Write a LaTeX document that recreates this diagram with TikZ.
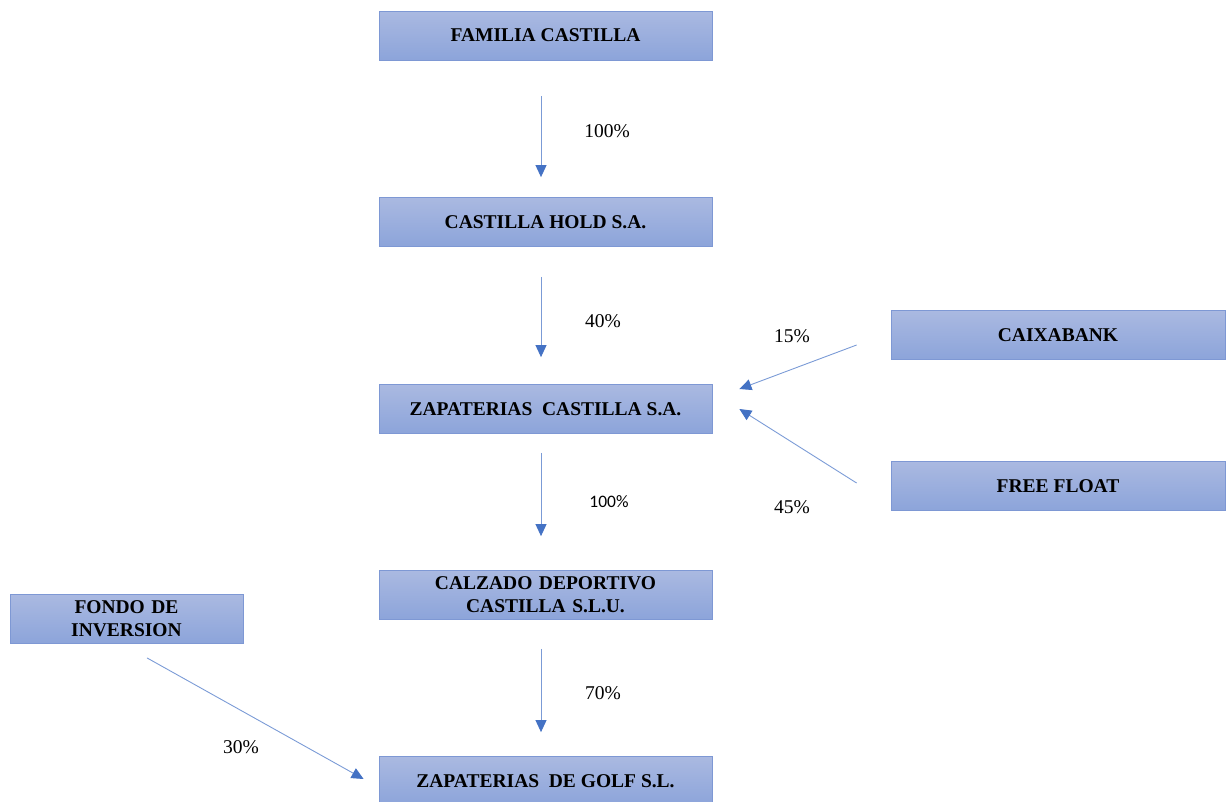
\documentclass[tikz,border=0pt]{standalone}
\usepackage{fontspec}
\setmainfont{Liberation Serif}
\newfontfamily\calib{Carlito}
\usetikzlibrary{arrows.meta,calc,positioning}

\definecolor{boxtop}{HTML}{AAB9E1}
\definecolor{boxbot}{HTML}{8CA4DA}
\definecolor{boxline}{HTML}{7E98D4}
\definecolor{arrowc}{HTML}{4472C4}
\definecolor{shaftc}{HTML}{7B9BD6}

\begin{document}
\begin{tikzpicture}
[
	              x = 1pt,
	              y = -1pt,
	   owner/.style = { draw=boxline, line width=0.8pt, top color=boxtop, bottom color=boxbot,
	                    minimum width=333pt, minimum height=49pt, inner sep=2pt, align=center,
	                    font=\fontsize{19.5}{23}\selectfont\bfseries },
	   share/.style = { draw=shaftc, line width=0.9pt,
	                    -{Triangle[length=12pt,width=11pt,color=arrowc,fill=arrowc]} },
	     pct/.style = { draw=none, fill=none, font=\fontsize{19.5}{22}\selectfont }
]
	\useasboundingbox (0,0) rectangle (1229,801);

	\node (fam)  at (545.5,35.5) [owner] {FAMILIA CASTILLA};
	\node (hold) at (545.5,222)  [owner] {CASTILLA HOLD S.A.};
	\node (zap)  at (545.5,409)  [owner] {ZAPATERIAS\ \ CASTILLA S.A.};
	\node (calz) at (545.5,595)  [owner, text width=320pt] {CALZADO DEPORTIVO\\CASTILLA S.L.U.};
	\node (golf) at (545.5,781)  [owner] {ZAPATERIAS\ \ DE GOLF S.L.};

	\node (caixa) at (1058,335)  [owner, minimum width=334pt] {CAIXABANK};
	\node (free)  at (1058,486)  [owner, minimum width=334pt] {FREE FLOAT};
	\node (fondo) at (126.5,619) [owner, minimum width=233pt, text width=220pt] {FONDO DE\\INVERSION};

	% vertical chain
	\draw [share, shorten <=36pt, shorten >=20pt] ([xshift=-4.5pt]fam.south)  -- ([xshift=-4.5pt]hold.north);
	\draw [share, shorten <=30pt, shorten >=27pt] ([xshift=-4.5pt]hold.south) -- ([xshift=-4.5pt]zap.north);
	\draw [share, shorten <=19pt, shorten >=34pt] ([xshift=-4.5pt]zap.south)  -- ([xshift=-4.5pt]calz.north);
	\draw [share, shorten <=29pt, shorten >=24pt] ([xshift=-4.5pt]calz.south) -- ([xshift=-4.5pt]golf.north);

	\node (p1) at (607,131) [pct] {100\%};
	\node (p2) at (603,321) [pct] {40\%};
	\node (p3) at (609,502) [pct, font=\calib\fontsize{17.5}{20}\selectfont] {100\%};
	\node (p4) at (603,693) [pct] {70\%};

	% outside holders
	\coordinate (caixaout) at ($(caixa.west)+(-34,10)$);
	\coordinate (freeout)  at ($(free.west)+(-34,-3)$);
	\coordinate (fondoout) at ($(fondo.south)+(20.5,14)$);
	\coordinate (zapin1)   at ($(zap.east)+(27,-20)$);
	\coordinate (zapin2)   at ($(zap.east)+(27,0)$);
	\coordinate (golfin)   at ($(golf.west)+(-15,-2)$);

	\draw [share] (caixaout) -- (zapin1);
	\draw [share] (freeout)  -- (zapin2);
	\draw [share] (fondoout) -- (golfin);

	\node (p5) at (792,336) [pct] {15\%};
	\node (p6) at (792,507) [pct] {45\%};
	\node (p7) at (241,747) [pct] {30\%};

\end{tikzpicture}
\end{document}
